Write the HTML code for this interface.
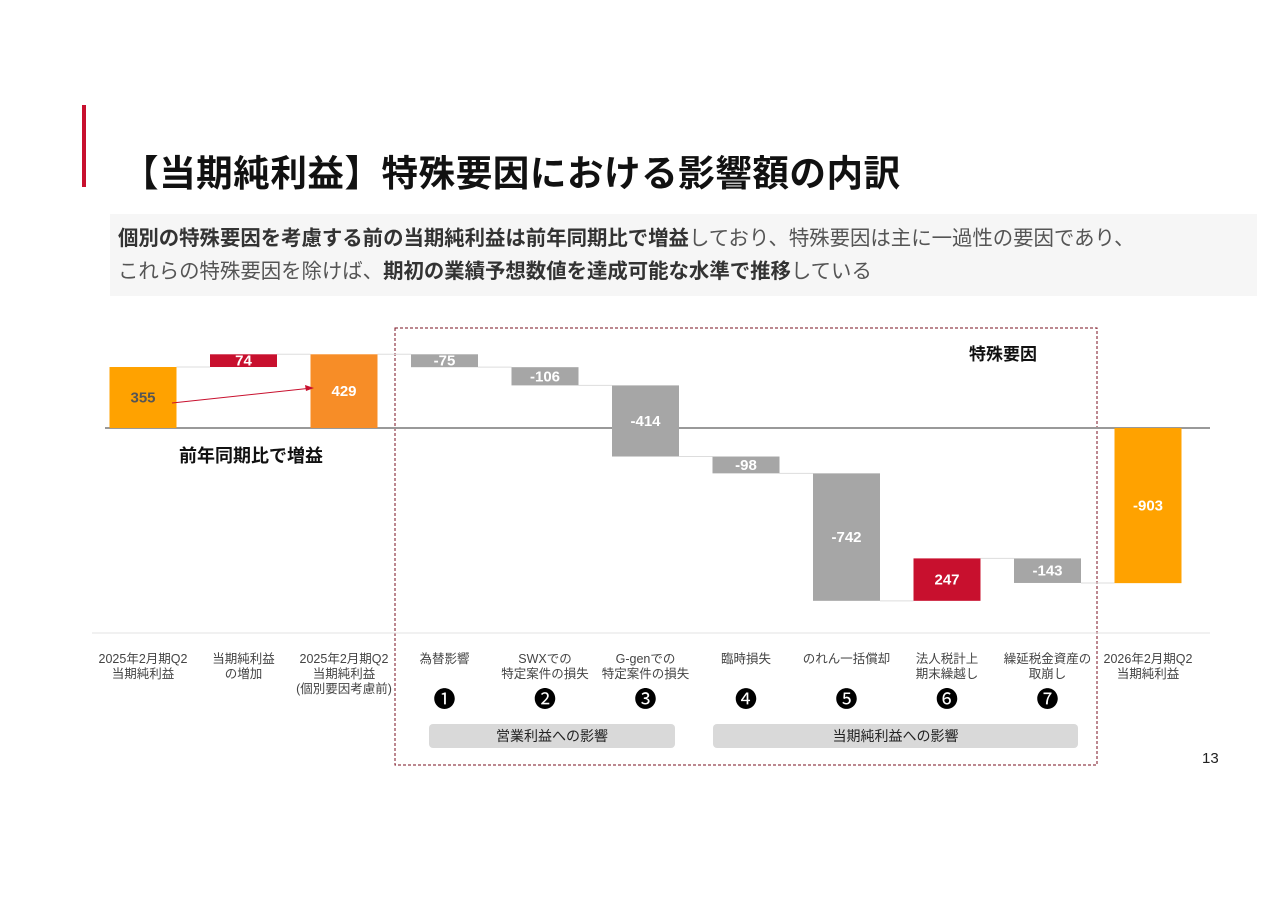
<!DOCTYPE html>
<html><head><meta charset="utf-8"><style>
body{margin:0;width:1280px;height:905px;background:#fff;font-family:"Liberation Sans","Noto Sans CJK JP",sans-serif;overflow:hidden;position:relative}
.abs{position:absolute}
</style></head><body>
<div class="abs" style="left:82px;top:105px;width:4px;height:82px;background:#c8102e"></div>
<div class="abs" style="left:122px;top:144px;font-size:36.6px;font-weight:bold;color:#111;white-space:nowrap;letter-spacing:0.5px">【当期純利益】特殊要因における影響額の内訳</div>
<div class="abs" style="left:110px;top:214px;width:1147px;height:82px;background:#f6f6f6"></div>
<div class="abs" style="left:118px;top:223px;font-size:20.4px;line-height:33px;color:#555;white-space:nowrap"><b style="color:#333">個別の特殊要因を考慮する前の当期純利益は前年同期比で増益</b>しており、特殊要因は主に一過性の要因であり、<br>これらの特殊要因を除けば、<b style="color:#333">期初の業績予想数値を達成可能な水準で推移</b>している</div>
<div class="abs" style="left:1202px;top:750px;font-size:15px;color:#222">13</div>
<svg id="chart" class="abs" style="left:0;top:0" width="1280" height="905"></svg>
<script>
const categories=["2025年2月期Q2\n当期純利益","当期純利益\nの増加","2025年2月期Q2\n当期純利益\n(個別要因考慮前)","為替影響","SWXでの\n特定案件の損失","G-genでの\n特定案件の損失","臨時損失","のれん一括償却","法人税計上\n期末繰越し","繰延税金資産の\n取崩し","2026年2月期Q2\n当期純利益"];
const values=[355,74,429,-75,-106,-414,-98,-742,247,-143,-903];
const kinds=["total","delta","total","delta","delta","delta","delta","delta","delta","delta","total"];
const labels=["355","74","429","-75","-106","-414","-98","-742","247","-143","-903"];
const markers=["","","","❶","❷","❸","❹","❺","❻","❼",""];
const NS="http://www.w3.org/2000/svg";
const svg=document.getElementById("chart");
const zeroY=428, scale=0.1718;
const y=v=>zeroY-v*scale;
const xc=i=>143+i*100.5;
const bw=67;
function mk(t,a){const e=document.createElementNS(NS,t);for(const k in a)e.setAttribute(k,a[k]);svg.appendChild(e);return e;}
let b=mk("rect",{x:395,y:328,width:702,height:437,fill:"none",stroke:"#7a1020","stroke-dasharray":"3,2","stroke-width":1});


let st=mk("text",{x:1003,y:360,"font-size":17,"font-weight":"bold","text-anchor":"middle",fill:"#111"});st.textContent="特殊要因";


let zl=mk("line",{x1:105,x2:1210,y1:zeroY,y2:zeroY,stroke:"#999","stroke-width":2});


let ax=mk("line",{x1:92,x2:1210,y1:633,y2:633,stroke:"#e3e3e3","stroke-width":1});


let run=0;
values.forEach((v,i)=>{
  let a,c,col;
  if(kinds[i]==="total"){a=0;c=v;run=v;col=(i===2)?"#f78d27":"#ffa200";}
  else{a=run;c=run+v;run=c;col=v>=0?"#c8102e":"#a6a6a6";}
  const top=Math.min(y(a),y(c)),h=Math.abs(y(a)-y(c));
  const r=mk("rect",{x:xc(i)-bw/2,y:top,width:bw,height:h,fill:col});
  
  
  if(i<values.length-1){
    const l=mk("line",{x1:xc(i)+bw/2,x2:xc(i+1)-bw/2,y1:y(run),y2:y(run),stroke:"#ddd","stroke-width":1});
    
    
  }
  const t=mk("text",{x:xc(i),y:Math.max(top+h/2+5,top+10),"font-size":15,"font-weight":"bold","text-anchor":"middle",fill:i===0?"#555":"#fff"});
  t.textContent=labels[i];
  
  
  const lines=categories[i].split("\n");
  lines.forEach((s,k)=>{
    const ct=mk("text",{x:xc(i),y:663+k*15,"font-size":12.5,"text-anchor":"middle",fill:"#444"});
    ct.textContent=s;
    
    
  });
  if(markers[i]){
    const m=mk("text",{x:xc(i),y:707,"font-size":22,"text-anchor":"middle",fill:"#000"});
    m.textContent=markers[i];
    
    
  }
});
let ar=mk("line",{x1:172,y1:403,x2:312,y2:388,stroke:"#c8102e","stroke-width":1});


let ah=mk("polygon",{points:"314,388 305,385 306,391",fill:"#c8102e"});


let gt=mk("text",{x:251,y:462,"font-size":18,"font-weight":"bold","text-anchor":"middle",fill:"#111"});gt.textContent="前年同期比で増益";


[[429,675,"営業利益への影響","operating-impact-group"],[713,1078,"当期純利益への影響","net-income-impact-group"]].forEach(g=>{
  const r=mk("rect",{x:g[0],y:724,width:g[1]-g[0],height:24,rx:4,fill:"#d9d9d9"});
  
  
  const t=mk("text",{x:(g[0]+g[1])/2,y:741,"font-size":14,"text-anchor":"middle",fill:"#222"});t.textContent=g[2];
  
  
});
</script>
</body></html>
